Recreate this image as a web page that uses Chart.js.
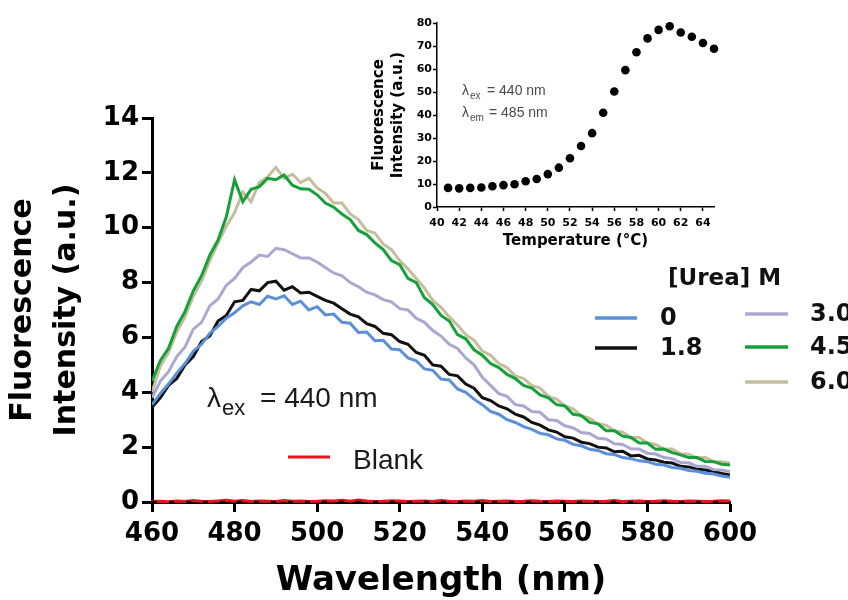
<!DOCTYPE html>
<html><head><meta charset="utf-8">
<script src="https://cdn.jsdelivr.net/npm/chart.js@4.4.0/dist/chart.umd.min.js"></script>
<style>
html,body{margin:0;padding:0;background:#fff;}
#wrap{position:relative;width:848px;height:600px;overflow:hidden;}
#main{position:absolute;left:0;top:0;width:848px;height:600px;}
#inset{position:absolute;left:360px;top:0;width:380px;height:260px;}
</style></head><body>
<div id="wrap"><canvas id="main" width="848" height="600"></canvas><canvas id="inset" width="380" height="260"></canvas></div>
<script>
// ---- main spectra data ----
const wavelengths = [460,462,464,466,468,470,472,474,476,478,480,482,484,486,488,490,492,494,496,498,500,502,504,506,508,510,512,514,516,518,520,522,524,526,528,530,532,534,536,538,540,542,544,546,548,550,552,554,556,558,560,562,564,566,568,570,572,574,576,578,580,582,584,586,588,590,592,594,596,598,600];
const urea0 = [3.55,3.95,4.3,4.7,5.05,5.5,5.75,6.15,6.4,6.7,6.9,7.15,7.3,7.2,7.5,7.4,7.52,7.2,7.32,7.0,7.12,6.82,6.85,6.55,6.52,6.18,6.2,5.88,5.9,5.58,5.55,5.25,5.15,4.85,4.8,4.48,4.45,4.12,4.0,3.75,3.55,3.3,3.2,3.0,2.9,2.75,2.65,2.5,2.45,2.3,2.25,2.1,2.05,1.92,1.88,1.76,1.73,1.62,1.58,1.5,1.47,1.38,1.35,1.26,1.23,1.15,1.12,1.05,1.02,0.95,0.9];
const urea18 = [3.45,3.8,4.25,4.5,5.0,5.3,5.85,6.05,6.6,6.8,7.3,7.35,7.75,7.7,8.0,8.05,7.72,7.85,7.62,7.65,7.5,7.35,7.25,7.05,6.85,6.75,6.5,6.4,6.15,6.1,5.85,5.75,5.45,5.35,5.0,4.95,4.65,4.6,4.3,4.15,3.8,3.7,3.5,3.4,3.2,3.1,2.9,2.8,2.63,2.55,2.38,2.33,2.18,2.13,2.0,1.97,1.83,1.85,1.68,1.7,1.57,1.53,1.45,1.42,1.3,1.28,1.2,1.17,1.12,1.04,0.98];
const urea30 = [3.8,4.4,4.75,5.3,5.65,6.3,6.55,7.15,7.4,7.9,8.15,8.55,8.75,9.0,8.95,9.25,9.2,9.05,8.9,8.9,8.75,8.55,8.35,8.25,8.0,7.85,7.65,7.55,7.38,7.3,7.05,7.0,6.7,6.55,6.25,6.05,5.75,5.6,5.25,5.0,4.55,4.25,3.95,3.85,3.55,3.5,3.3,3.27,3.0,2.97,2.78,2.7,2.53,2.5,2.32,2.3,2.12,2.1,1.94,1.93,1.78,1.75,1.62,1.58,1.44,1.43,1.3,1.3,1.18,1.17,1.1];
const urea45 = [4.4,5.15,5.6,6.4,6.95,7.7,8.25,9.0,9.55,10.4,11.75,10.95,11.4,11.5,11.8,11.75,11.92,11.55,11.42,11.4,11.2,10.9,10.75,10.5,10.3,9.9,9.75,9.45,9.2,8.8,8.65,8.15,8.0,7.45,7.2,6.8,6.6,6.1,5.95,5.55,5.35,5.05,4.9,4.65,4.5,4.25,4.15,3.9,3.8,3.55,3.5,3.2,3.15,2.9,2.85,2.6,2.6,2.4,2.35,2.15,2.15,1.92,1.93,1.8,1.72,1.62,1.62,1.48,1.47,1.38,1.35];
const urea60 = [4.0,4.95,5.45,6.2,6.75,7.5,8.05,8.8,9.45,10.05,10.55,11.3,10.95,11.65,11.85,12.2,11.8,11.95,11.65,11.8,11.45,11.25,10.9,10.9,10.5,10.3,9.9,9.8,9.4,9.2,8.8,8.5,8.15,7.8,7.35,7.1,6.75,6.45,6.1,5.9,5.5,5.35,5.05,4.9,4.6,4.5,4.25,4.15,3.85,3.75,3.5,3.4,3.15,3.05,2.85,2.8,2.6,2.55,2.35,2.35,2.15,2.1,1.92,1.93,1.76,1.74,1.6,1.63,1.47,1.47,1.42];
const blank = [0.02,0.03,0.01,0.04,0.02,0.05,0.03,0.02,0.04,0.06,0.03,0.05,0.02,0.04,0.03,0.02,0.05,0.03,0.04,0.02,0.03,0.05,0.04,0.06,0.03,0.07,0.04,0.02,0.03,0.05,0.04,0.02,0.03,0.04,0.02,0.05,0.03,0.02,0.04,0.03,0.05,0.02,0.03,0.04,0.02,0.03,0.05,0.03,0.02,0.04,0.03,0.02,0.04,0.03,0.02,0.03,0.05,0.02,0.03,0.04,0.02,0.03,0.05,0.03,0.02,0.04,0.03,0.02,0.03,0.05,0.04];
const baseline = [0,0];
const baselineX = [460,600];
const seriesLabels = ['0','1.8','3.0','4.5','6.0'];
const seriesColors = ['#5b8fd8','#111111','#aaa8d2','#16a03a','#c6bd9d'];
const xTicks = [460,480,500,520,540,560,580,600];
const yTicks = [0,2,4,6,8,10,12,14];

// ---- inset data ----
const temps = [41,42,43,44,45,46,47,48,49,50,51,52,53,54,55,56,57,58,59,60,61,62,63,64,65];
const insetVals = [8.3,8.1,8.3,8.5,9.0,9.5,9.9,11.2,12.2,14.3,17.1,21.2,26.5,32.1,41.0,50.2,59.5,67.3,73.3,77.0,78.6,75.9,74.0,71.3,68.8];
const insetXTicks = [40,42,44,46,48,50,52,54,56,58,60,62,64];
const insetYTicks = [0,10,20,30,40,50,60,70,80];

const BOLD = 'DejaVu Sans';
const REG = '"Liberation Sans", Arial, sans-serif';
const pts = (xs, ys) => xs.map((x, i) => ({x: x, y: ys[i]}));

const series = [urea0, urea18, urea30, urea45, urea60];
const orders = [4, 5, 3, 2, 6];
const datasets = series.map((s, i) => ({
  label: seriesLabels[i], data: pts(wavelengths, s), borderColor: seriesColors[i],
  borderWidth: 3, pointRadius: 0, order: orders[i], tension: 0
}));
datasets.push({label: 'Blank', data: pts(wavelengths, blank), borderColor: '#e4141b', borderWidth: 3, pointRadius: 0, order: 1, clip: false});
datasets.push({label: 'zero', data: pts(baselineX, baseline), borderColor: '#000', borderWidth: 2.5, borderDash: [5, 12], pointRadius: 0, order: 0, clip: false});

const mainAnnot = {
  id: 'mainAnnot',
  afterDraw(chart) {
    const ctx = chart.ctx;
    ctx.save();
    ctx.textBaseline = 'alphabetic';
    ctx.fillStyle = '#1a1a1a';
    ctx.font = '28px ' + REG;
    ctx.fillText('λ', 207, 407);
    ctx.font = '22px ' + REG;
    ctx.fillText('ex', 222, 415);
    ctx.font = '28px ' + REG;
    ctx.fillText('= 440 nm', 260, 407);
    // blank key
    ctx.strokeStyle = '#e4141b'; ctx.lineWidth = 3;
    ctx.beginPath(); ctx.moveTo(288, 457); ctx.lineTo(330, 457); ctx.stroke();
    ctx.fillText('Blank', 353, 469);
    // legend
    ctx.fillStyle = '#111';
    ctx.textBaseline = 'middle';
    ctx.font = 'bold 23px "' + BOLD + '"';
    ctx.fillText('[Urea] M', 668, 279);
    const slots = [[595, 637, 660, 318], [595, 637, 660, 348], [745, 788, 810, 314], [745, 788, 810, 347], [745, 788, 810, 382]];
    ctx.font = 'bold 24px "' + BOLD + '"';
    slots.forEach((s, i) => {
      ctx.strokeStyle = seriesColors[i]; ctx.lineWidth = 3.5;
      ctx.beginPath(); ctx.moveTo(s[0], s[3]); ctx.lineTo(s[1], s[3]); ctx.stroke();
      ctx.fillText(seriesLabels[i], s[2], s[3] + 1);
    });
    ctx.restore();
  }
};

new Chart(document.getElementById('main'), {
  type: 'line',
  data: {datasets: datasets},
  options: {
    responsive: false, animation: false,
    layout: {padding: {left: 0, top: 118, right: 118, bottom: 0}},
    plugins: {legend: {display: false}, tooltip: {enabled: false}},
    scales: {
      x: {
        type: 'linear', min: 460, max: 600,
        afterBuildTicks(s) { s.ticks = xTicks.map(v => ({value: v})); },
        ticks: {color: '#000', font: {family: BOLD, weight: 'bold', size: 26}, padding: 7, maxRotation: 0, autoSkip: false},
        grid: {drawOnChartArea: false, drawTicks: true, tickLength: 10, tickWidth: 3, tickColor: '#000'},
        border: {color: '#000', width: 3},
        title: {display: true, text: 'Wavelength (nm)', color: '#000', font: {family: BOLD, weight: 'bold', size: 34, lineHeight: 1.1}, padding: {top: 0, bottom: 0}},
        afterFit(s) { s.height = 98; }
      },
      y: {
        min: 0, max: 14,
        afterBuildTicks(s) { s.ticks = yTicks.map(v => ({value: v})); },
        ticks: {color: '#000', font: {family: BOLD, weight: 'bold', size: 26}, padding: 3, autoSkip: false},
        grid: {drawOnChartArea: false, drawTicks: true, tickLength: 10, tickWidth: 3, tickColor: '#000'},
        border: {color: '#000', width: 3},
        title: {display: true, text: ['Fluorescence', 'Intensity (a.u.)'], color: '#000', font: {family: BOLD, weight: 'bold', size: 30, lineHeight: 1.47}, padding: {top: 1, bottom: 0}},
        afterFit(s) { s.width = 152; }
      }
    }
  },
  plugins: [mainAnnot]
});

const insetAnnot = {
  id: 'insetAnnot',
  afterDraw(chart) {
    const ctx = chart.ctx;
    ctx.save();
    ctx.fillStyle = '#4a4a4a';
    ctx.textBaseline = 'alphabetic';
    ctx.font = '14px ' + REG; ctx.fillText('λ', 102, 95);
    ctx.font = '10px ' + REG; ctx.fillText('ex', 110, 99);
    ctx.font = '14px ' + REG; ctx.fillText('= 440 nm', 127, 95);
    ctx.font = '14px ' + REG; ctx.fillText('λ', 102, 117);
    ctx.font = '10px ' + REG; ctx.fillText('em', 110, 121);
    ctx.font = '14px ' + REG; ctx.fillText('= 485 nm', 129, 117);
    ctx.restore();
  }
};

new Chart(document.getElementById('inset'), {
  type: 'scatter',
  data: {datasets: [{label: 'T', data: pts(temps, insetVals), backgroundColor: '#000', borderColor: '#000', pointRadius: 4.3, borderWidth: 0, clip: false}]},
  options: {
    responsive: false, animation: false,
    layout: {padding: {left: 0, top: 23, right: 26, bottom: 0}},
    plugins: {legend: {display: false}, tooltip: {enabled: false}},
    scales: {
      x: {
        type: 'linear', min: 40, max: 65,
        afterBuildTicks(s) { s.ticks = insetXTicks.map(v => ({value: v})); },
        ticks: {color: '#000', font: {family: BOLD, weight: 'bold', size: 11}, padding: 6, maxRotation: 0, autoSkip: false},
        grid: {drawOnChartArea: false, drawTicks: true, tickLength: 4, tickWidth: 1.5, tickColor: '#000'},
        border: {color: '#000', width: 1.5},
        title: {display: true, text: 'Temperature (°C)', color: '#000', font: {family: BOLD, weight: 'bold', size: 15, lineHeight: 1.2}, padding: {top: 0, bottom: 10}},
        afterFit(s) { s.height = 53; }
      },
      y: {
        type: 'linear', min: 0, max: 80,
        afterBuildTicks(s) { s.ticks = insetYTicks.map(v => ({value: v})); },
        ticks: {color: '#000', font: {family: BOLD, weight: 'bold', size: 11}, padding: 1, autoSkip: false},
        grid: {drawOnChartArea: false, drawTicks: true, tickLength: 4, tickWidth: 1.5, tickColor: '#000'},
        border: {color: '#000', width: 1.5},
        title: {display: true, text: ['Fluorescence', 'Intensity (a.u.)'], color: '#000', font: {family: BOLD, weight: 'bold', size: 15, lineHeight: 1.27}, padding: {top: 10, bottom: 0}},
        afterFit(s) { s.width = 77; }
      }
    }
  },
  plugins: [insetAnnot]
});
</script>
</body></html>
